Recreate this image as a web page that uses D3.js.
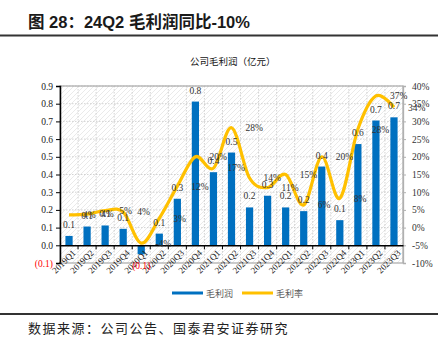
<!DOCTYPE html>
<html>
<head>
<meta charset="utf-8">
<script src="https://cdn.jsdelivr.net/npm/d3@7"></script>
<style>
  html, body { margin: 0; padding: 0; background: #fff; }
  svg { display: block; }
</style>
</head>
<body>
<svg id="chart" width="443" height="338"></svg>
<script>
// ---------------- data ----------------
const categories = ['2019Q1','2019Q2','2019Q3','2019Q4','2020Q1','2020Q2','2020Q3','2020Q4',
  '2021Q1','2021Q2','2021Q3','2021Q4','2022Q1','2022Q2','2022Q3','2022Q4','2023Q1','2023Q2','2023Q3'];
const grossProfit = [0.053, 0.106, 0.112, 0.093, -0.051, 0.066, 0.263, 0.812,
  0.413, 0.524, 0.214, 0.280, 0.214, 0.193, 0.445, 0.142, 0.572, 0.705, 0.723];
const grossMargin = [3.6, 3.8, 4.8, 4.4, -4.4, 2.6, 11.7, 20.0,
  16.8, 28.2, 14.0, 11.3, 15.0, 6.4, 20.0, 8.3, 27.8, 37.2, 34.0];
const leftTicks = [-0.1, 0, 0.1, 0.2, 0.3, 0.4, 0.5, 0.6, 0.7, 0.8, 0.9];
const rightTicks = [-10, -5, 0, 5, 10, 15, 20, 25, 30, 35, 40];
const legendNames = ['毛利润', '毛利率'];
const titleText = '图 28：24Q2 毛利润同比-10%';
const unitText = '公司毛利润（亿元）';
const sourceText = '数据来源：公司公告、国泰君安证券研究';

// ---------------- layout ----------------
const svg = d3.select('#chart');
const L = 60, R = 403, T = 86, B = 263;
const serif = '"Liberation Serif","Times New Roman",serif';
const sans = '"Liberation Sans",Arial,"Noto Sans CJK SC",sans-serif';
const cjk = '"Noto Sans CJK SC",sans-serif';
const blue = '#0070C0', gold = '#FFC000';

const x = d3.scaleBand().domain(categories).range([L, R]).padding(0);
const yL = d3.scaleLinear().domain([-0.1, 0.9]).range([B, T]);
const yR = d3.scaleLinear().domain([-10, 40]).range([B, T]);

// title & rules
svg.append('text').attr('x', 28).attr('y', 28).attr('font-family', sans)
  .attr('font-weight', 'bold').attr('font-size', 16.5).attr('fill', '#1a1a1a').text(titleText);
svg.append('line').attr('x1', 0).attr('x2', 438).attr('y1', 35.5).attr('y2', 35.5)
  .attr('stroke', '#333').attr('stroke-width', 2);
svg.append('line').attr('x1', 0).attr('x2', 438).attr('y1', 314).attr('y2', 314)
  .attr('stroke', '#333').attr('stroke-width', 2);
svg.append('text').attr('x', 28).attr('y', 333).attr('font-family', cjk)
  .attr('font-size', 13).attr('letter-spacing', 1.5).attr('fill', '#222').text(sourceText);

// unit label
svg.append('text').attr('x', 190).attr('y', 64.5).attr('font-family', cjk)
  .attr('font-size', 9.5).attr('fill', '#111').text(unitText);

// hatch pattern
const defs = svg.append('defs');
const pat = defs.append('pattern').attr('id', 'hatch').attr('patternUnits', 'userSpaceOnUse')
  .attr('width', 5).attr('height', 5);
pat.append('path').attr('d', 'M-1,1 l2,-2 M0,5 l5,-5 M4,6 l2,-2')
  .attr('stroke', '#e4e4e4').attr('stroke-width', 0.8);
svg.append('rect').attr('x', L).attr('y', T).attr('width', R - L).attr('height', B - T)
  .attr('fill', 'url(#hatch)');

// gridlines
const grid = svg.append('g').attr('stroke', '#c8c8c8').attr('stroke-dasharray', '1.5,1.5').attr('stroke-width', 0.8);
grid.selectAll('line.h').data(leftTicks.filter(t => t > 0)).join('line')
  .attr('x1', L).attr('x2', R).attr('y1', d => yL(d)).attr('y2', d => yL(d));
grid.selectAll('line.v').data(categories.slice(1)).join('line')
  .attr('x1', d => x(d)).attr('x2', d => x(d)).attr('y1', T).attr('y2', B);

// plot border
svg.append('rect').attr('x', L).attr('y', T).attr('width', R - L).attr('height', B - T)
  .attr('fill', 'none').attr('stroke', '#b0b0b0').attr('stroke-width', 1.3);

// bars
const bw = x.bandwidth() * 0.4;
svg.append('g').selectAll('rect').data(categories).join('rect')
  .attr('x', d => x(d) + x.bandwidth() / 2 - bw / 2)
  .attr('width', bw)
  .attr('y', (d, i) => Math.min(yL(grossProfit[i]), yL(0)))
  .attr('height', (d, i) => Math.abs(yL(grossProfit[i]) - yL(0)))
  .attr('fill', blue);

// left axis
const leftAxis = svg.append('g').attr('transform', `translate(${L},0)`)
  .call(d3.axisLeft(yL).tickValues(leftTicks).tickSize(4).tickPadding(3)
    .tickFormat(d => d < 0 ? `(${d3.format('.1f')(-d)})` : d3.format('.1f')(d)));
leftAxis.select('.domain').attr('stroke', '#000').attr('stroke-width', 1.5);
leftAxis.selectAll('.tick line').attr('stroke', '#000');
leftAxis.selectAll('.tick text').attr('font-family', serif).attr('font-size', 9.5)
  .attr('fill', d => d < 0 ? '#FF0000' : '#222');

// right axis
const rightAxis = svg.append('g').attr('transform', `translate(${R},0)`)
  .call(d3.axisRight(yR).tickValues(rightTicks).tickSize(3).tickPadding(6)
    .tickFormat(d => d + '%'));
rightAxis.select('.domain').attr('stroke', '#b0b0b0').attr('stroke-width', 1.3);
rightAxis.selectAll('.tick line').attr('stroke', '#b0b0b0');
rightAxis.selectAll('.tick text').attr('font-family', serif).attr('font-size', 9.5).attr('fill', '#333');

// x axis at zero
const xAxis = svg.append('g').attr('transform', `translate(0,${yL(0)})`)
  .call(d3.axisBottom(x).tickSize(0).tickFormat(''));
xAxis.select('.domain').attr('stroke', '#000').attr('stroke-width', 1.6);
svg.append('g').selectAll('line').data(categories.slice(1)).join('line')
  .attr('x1', d => x(d)).attr('x2', d => x(d)).attr('y1', yL(0)).attr('y2', yL(0) + 4)
  .attr('stroke', '#000').attr('stroke-width', 1);
svg.append('g').selectAll('text').data(categories).join('text')
  .attr('transform', d => `translate(${x(d) + x.bandwidth() / 2 + 5},${yL(0) + 6}) rotate(-45)`)
  .attr('text-anchor', 'end').attr('dy', '0.35em')
  .attr('font-family', serif).attr('font-size', 9).attr('fill', '#222').text(d => d);

// margin line
const line = d3.line()
  .x((d, i) => x(categories[i]) + x.bandwidth() / 2)
  .y(d => yR(d))
  .curve(d3.curveCardinal.tension(0));
svg.append('path').datum(grossMargin).attr('d', line)
  .attr('fill', 'none').attr('stroke', gold).attr('stroke-width', 3.2).attr('stroke-linejoin', 'round');

// bar labels
svg.append('g').selectAll('text').data(categories).join('text')
  .attr('x', d => x(d) + x.bandwidth() / 2)
  .attr('y', (d, i) => grossProfit[i] >= 0 ? yL(grossProfit[i]) - 8 : yL(grossProfit[i]) + 15)
  .attr('text-anchor', 'middle').attr('font-family', serif).attr('font-size', 9.5)
  .attr('fill', (d, i) => grossProfit[i] < 0 ? '#FF0000' : '#333')
  .text((d, i) => grossProfit[i] < 0 ? `(${d3.format('.1f')(-grossProfit[i])})` : d3.format('.1f')(grossProfit[i]));

// margin labels (right of points)
svg.append('g').selectAll('text').data(categories).join('text')
  .attr('x', d => x(d) + x.bandwidth() / 2 + 14)
  .attr('y', (d, i) => yR(grossMargin[i]))
  .attr('dy', '0.35em')
  .attr('font-family', serif).attr('font-size', 9.5).attr('fill', '#333')
  .text((d, i) => Math.round(grossMargin[i]) + '%');

// legend
const lg = svg.append('g').attr('font-family', cjk).attr('font-size', 9).attr('fill', '#595959');
const legendItems = [{ name: legendNames[0], color: blue, x0: 172 }, { name: legendNames[1], color: gold, x0: 242 }];
lg.selectAll('line').data(legendItems).join('line')
  .attr('x1', d => d.x0).attr('x2', d => d.x0 + 31).attr('y1', 293).attr('y2', 293)
  .attr('stroke', d => d.color).attr('stroke-width', 3);
lg.selectAll('text').data(legendItems).join('text')
  .attr('x', d => d.x0 + 34).attr('y', 296.5).text(d => d.name);
</script>
</body>
</html>
